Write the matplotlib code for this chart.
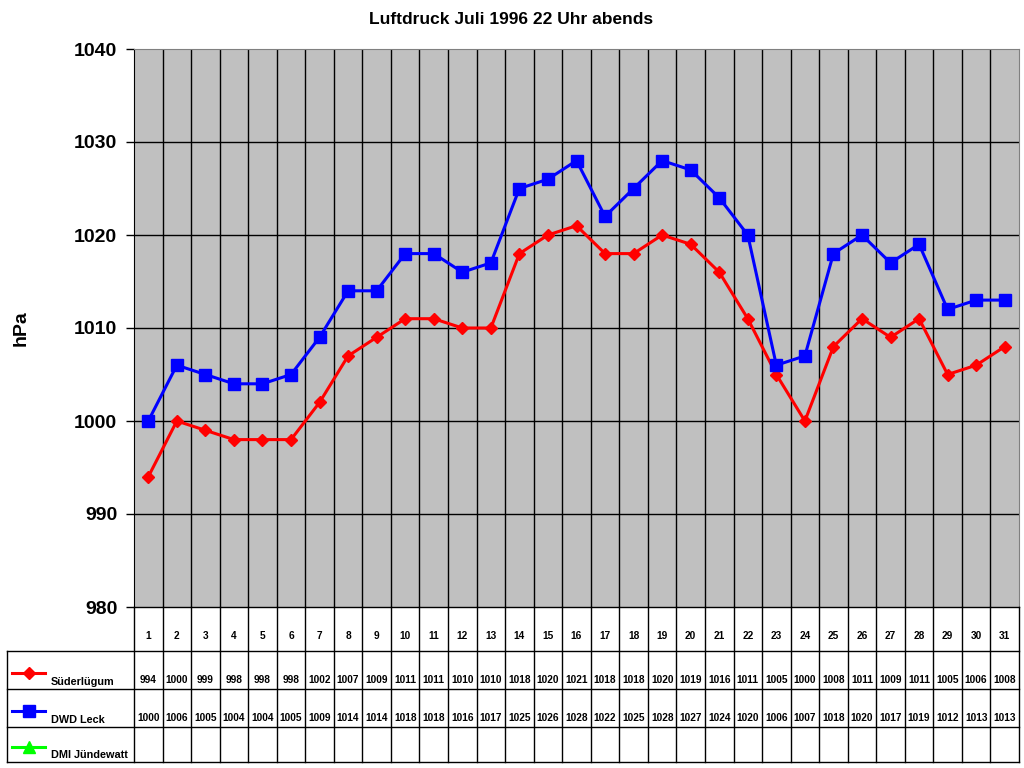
import matplotlib
matplotlib.use("Agg")
import matplotlib.pyplot as plt
import numpy as np

days = list(range(1, 32))
suederluegum = [994, 1000, 999, 998, 998, 998, 1002, 1007, 1009, 1011, 1011, 1010, 1010,
                1018, 1020, 1021, 1018, 1018, 1020, 1019, 1016, 1011, 1005, 1000, 1008,
                1011, 1009, 1011, 1005, 1006, 1008]
dwd_leck = [1000, 1006, 1005, 1004, 1004, 1005, 1009, 1014, 1014, 1018, 1018, 1016, 1017,
            1025, 1026, 1028, 1022, 1025, 1028, 1027, 1024, 1020, 1006, 1007, 1018,
            1020, 1017, 1019, 1012, 1013, 1013]
dmi_juendewatt = []  # keine Werte

series_names = ["Süderlügum", "DWD Leck", "DMI Jündewatt"]
series_values = [suederluegum, dwd_leck, dmi_juendewatt]
series_colors = ["#ff0000", "#0000ff", "#00ff00"]
series_markers = ["D", "s", "^"]
marker_sizes = [6.2, 8.5, 8]

plt.rcParams['font.family'] = ['Liberation Sans', 'DejaVu Sans']

W, H = 1024, 768
fig = plt.figure(figsize=(W / 100, H / 100), dpi=100)

# --- chart area ---
ax = fig.add_axes([134 / W, 1 - 607 / H, 885 / W, 558 / H])
ax.set_facecolor('#c0c0c0')
ax.set_xlim(0.5, 31.5)
ax.set_ylim(980, 1040)
ax.set_yticks(range(980, 1041, 10))
ax.set_xticks([])
for y in range(990, 1040, 10):
    ax.axhline(y, color='black', lw=1, zorder=1)
for x in np.arange(1.5, 31, 1):
    ax.axvline(x, color='black', lw=1, zorder=1)
for vals, c, m, ms in zip(series_values, series_colors, series_markers, marker_sizes):
    if vals:
        ax.plot(days[:len(vals)], vals, color=c, marker=m, ms=ms, lw=2.2, zorder=3)

ax.tick_params(axis='y', length=6, width=1, labelsize=14, pad=6)
for lab in ax.get_yticklabels():
    lab.set_fontweight('bold')
ax.spines['left'].set_color('black')
for s in ['top', 'right']:
    ax.spines[s].set_color('#808080')
ax.spines['bottom'].set_visible(False)
ax.set_ylabel('hPa', fontsize=14, fontweight='bold')
ax.yaxis.set_label_coords(-104 / 885, 0.5)

fig.text(511 / W, 1 - 20 / H, 'Luftdruck Juli 1996 22 Uhr abends',
         ha='center', va='center', fontsize=12.5, fontweight='bold')

# --- data table ---
tab = fig.add_axes([134 / W, 1 - 762 / H, 885 / W, 155 / H])
tab.set_xlim(0.5, 31.5)
tab.set_ylim(1, 0)
tab.axis('off')
row_edges = [0, 0.284, 0.529, 0.774, 1.0]
col_px = 885 / 31
left = 0.5 - 127 / col_px  # legend column start in data units

lk = dict(color='black', lw=1, clip_on=False)
tab.plot([0.5, 31.5], [0, 0], **lk)
for r in row_edges[1:]:
    tab.plot([left, 31.5], [r, r], **lk)
for x in np.arange(0.5, 32, 1):
    tab.plot([x, x], [0, 1], **lk)
tab.plot([left, left], [row_edges[1], 1], **lk)

txt = dict(ha='center', va='center', fontsize=7.3, fontweight='bold')
for d in days:
    tab.text(d, 0.187, str(d), **txt)
for i, vals in enumerate(series_values):
    bottom = row_edges[i + 2]
    for d, v in zip(days, vals):
        tab.text(d, bottom - 0.055, str(v), **txt)
    # legend key
    ly = bottom - 0.10
    lx0, lx1 = left + 5 / col_px, left + 38 / col_px
    tab.plot([lx0, lx1], [ly, ly], color=series_colors[i], lw=2.2, clip_on=False)
    tab.plot([(lx0 + lx1) / 2], [ly], color=series_colors[i], marker=series_markers[i],
             ms=marker_sizes[i], clip_on=False)
    tab.text(left + 44 / col_px, bottom - 0.045, series_names[i],
             ha='left', va='center', fontsize=7.8, fontweight='bold')

fig.savefig('out.png', dpi=100)
